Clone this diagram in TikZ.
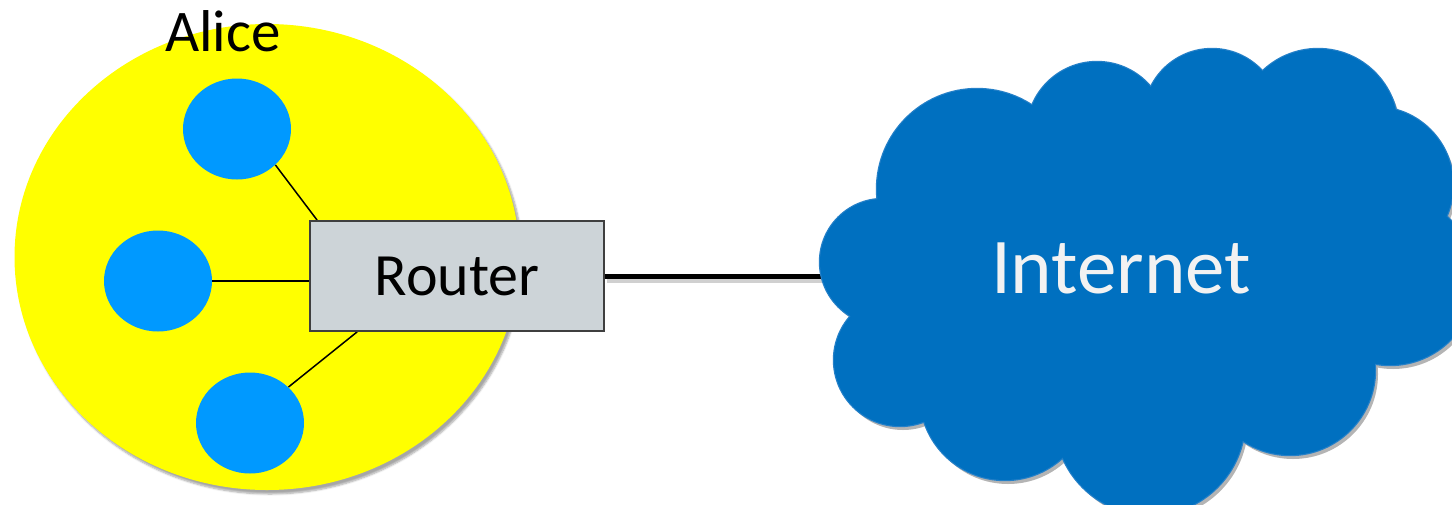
\documentclass[tikz,border=0pt]{standalone}
\usepackage{fontspec}
\setmainfont{Carlito}
\usetikzlibrary{shapes.geometric,shadows.blur,calc}
\definecolor{alicebg}{HTML}{FFFF00}
\definecolor{hostblue}{HTML}{0099FF}
\definecolor{routerfill}{HTML}{CDD4D8}
\definecolor{routerline}{HTML}{3F3F3F}
\definecolor{cloudblue}{HTML}{0070C0}
\definecolor{cloudrim}{HTML}{2580C8}
\definecolor{cloudshade}{HTML}{B4B4B4}
\definecolor{cloudtext}{HTML}{F2F2F2}
\definecolor{lineshade}{HTML}{D0D0D0}
\pgfdeclarelayer{back}
\pgfdeclarelayer{wires}
\pgfsetlayers{back,wires,main}
\tikzset{
  host/.style={ellipse, fill=hostblue, inner sep=0pt, minimum width=108pt, minimum height=101pt},
  link/.style={line width=1.5pt, black},
  uplink/.style={line width=5pt, black},
  routerbox/.style={rectangle, fill=routerfill, draw=routerline, line width=1.8pt,
    minimum width=294pt, minimum height=110pt, inner sep=0pt,
    font=\fontsize{60}{62}\selectfont},
}
\begin{document}
\begin{tikzpicture}[x=1pt,y=-1pt]
\useasboundingbox (0,0) rectangle (1452,504);

% Alice's home network
\begin{pgfonlayer}{back}
\node[ellipse, fill=alicebg, inner sep=0pt, minimum width=505pt, minimum height=466pt,
  blur shadow={shadow xshift=3pt, shadow yshift=-4pt, shadow blur steps=6, shadow opacity=35}]
  (alice) at (267,257) {};
\end{pgfonlayer}

\node[host] (h1) at (237,129) {};
\node[host] (h2) at (158,281) {};
\node[host] (h3) at (250,423) {};

\node[routerbox] (router) at (457,276) {Router};

% host links, kept under the hosts and the router
\begin{pgfonlayer}{wires}
\draw[link] (h1.south east) -- ($(router.north west)+(8,0)$);
\draw[link] (h2.east) -- (h2.east -| router.west);
\draw[link] (h3.north east) -- ($(router.south west)+(48,0)$);
\end{pgfonlayer}

% uplink to the Internet, with its soft shadow
\coordinate (cloudin) at (850,276);
\draw[line width=4pt, lineshade] ($(router.east)+(2,5)$) -- ($(cloudin)+(0,5)$);
\draw[uplink] (router.east) -- (cloudin);

% Internet cloud: shadow, rim, then fill
\foreach \cx/\cy/\cr in {883/262/63, 977/189/100, 1097/132/70, 1212/117/68,
    1318/129/80, 1375/185/78, 1390/280/85, 1290/370/85, 1150/420/95,
    1005/395/85, 900/360/66}{
  \fill[cloudshade] (\cx+3,\cy+4) circle[radius=\cr pt];
}
\foreach \cx/\cy/\cr in {883/262/63, 977/189/100, 1097/132/70, 1212/117/68,
    1318/129/80, 1375/185/78, 1390/280/85, 1290/370/85, 1150/420/95,
    1005/395/85, 900/360/66}{
  \fill[cloudrim] (\cx,\cy) circle[radius=\cr pt + 1.2pt];
}
\foreach \cx/\cy/\cr in {883/262/63, 977/189/100, 1097/132/70, 1212/117/68,
    1318/129/80, 1375/185/78, 1390/280/85, 1290/370/85, 1150/420/95,
    1005/395/85, 900/360/66}{
  \fill[cloudblue] (\cx,\cy) circle[radius=\cr pt];
}
\fill[cloudblue] (1130,285) ellipse[x radius=250pt, y radius=170pt];

\node[text=cloudtext, font=\fontsize{79}{80}\selectfont] (internet) at (1121,268) {Internet};

\node[anchor=base, font=\fontsize{59}{60}\selectfont] (alicelabel) at (223,51) {Alice};
\end{tikzpicture}
\end{document}
